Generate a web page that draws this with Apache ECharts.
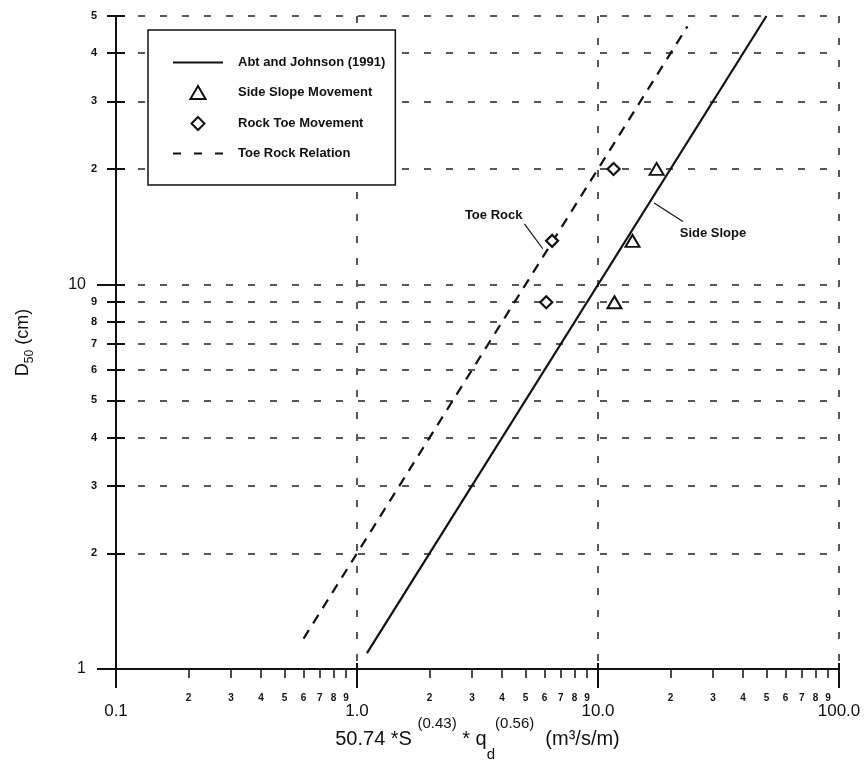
<!DOCTYPE html>
<html><head><meta charset="utf-8">
<script src="https://cdn.jsdelivr.net/npm/echarts@6/dist/echarts.min.js"></script>
<style>html,body{margin:0;padding:0;background:#fff}#c{width:866px;height:760px}</style>
</head><body><div id="c"></div>
<script>
// ---- data ----
const xMajorTicks = [0.1, 1, 10, 100];
const xMinorTicks = [0.2,0.3,0.4,0.5,0.6,0.7,0.8,0.9, 2,3,4,5,6,7,8,9, 20,30,40,50,60,70,80,90];
const yTicks = [1,2,3,4,5,6,7,8,9,10,20,30,40,50];
const yMinorTicks = [2,3,4,5,6,7,8,9,20,30,40,50];
const yMajorTicks = [1, 10];

const abtJohnsonLine = [[1.1, 1.1], [50, 50]];
const toeRockLine = [[0.6, 1.2], [23.5, 47]];
const sideSlopePoints = [[17.5, 20], [13.9, 13], [11.7, 9]];
const rockToePoints = [[11.6, 20], [6.45, 13], [6.1, 9]];

const annotationNames = ['Toe Rock', 'Side Slope'];
const annotationAt = [[3.69, 15.1], [30.0, 13.6]];
const leaderFrom = [[4.95, 14.4], [17.1, 16.3]];
const leaderTo = [[5.9, 12.4], [22.5, 14.6]];

const seriesNames = ['Abt and Johnson (1991)', 'Side Slope Movement', 'Rock Toe Movement', 'Toe Rock Relation'];

// ---- chart ----
const FONT = 'Liberation Sans, Arial, sans-serif';
const INK = '#111';
const gridDash = {color: '#222', width: 1.5, type: [7, 15]};
function firstDigit(v) {
  const p = Math.pow(10, Math.floor(Math.log10(v) + 1e-9));
  return String(Math.round(v / p));
}
const chart = echarts.init(document.getElementById('c'), null, {renderer: 'canvas'});
const xBase = {type: 'log', logBase: 10, min: 0.1, max: 100, position: 'bottom', gridIndex: 0};
const yBase = {type: 'log', logBase: 10, min: 1, max: 50, position: 'left', gridIndex: 0};

chart.setOption({
  animation: false,
  backgroundColor: '#fff',
  textStyle: {fontFamily: FONT},
  grid: {left: 116, right: 27, top: 16, bottom: 91, containLabel: false, outerBoundsMode: 'none'},
  legend: {
    orient: 'vertical', left: 148, top: 30,
    data: [
      {name: seriesNames[0], itemStyle: {opacity: 0}},
      {name: seriesNames[1], icon: 'path://M7,0L14,12L0,12Z'},
      {name: seriesNames[2], icon: 'path://M6,0L12,6L6,12L0,6Z'},
      {name: seriesNames[3], itemStyle: {opacity: 0}, lineStyle: {type: [8, 13]}}
    ],
    symbolKeepAspect: true,
    itemWidth: 50, itemHeight: 13, itemGap: 16,
    padding: [26, 10, 25, 24],
    borderColor: INK, borderWidth: 1.5, backgroundColor: '#fff',
    textStyle: {fontSize: 13, fontWeight: 'bold', color: INK, fontFamily: FONT, padding: [0, 0, 0, 10]}
  },
  xAxis: [
    Object.assign({}, xBase, {
      name: '{m|50.74 *S }{sup|(0.43)}{m| * q}{sub|d}{sup|(0.56)}{m|  (m³/s/m)}',
      nameLocation: 'middle', nameGap: 47, nameMoveOverlap: false,
      nameTextStyle: {
        fontFamily: FONT, color: INK,
        rich: {
          m: {fontSize: 20, lineHeight: 46, color: INK, fontFamily: FONT},
          sup: {fontSize: 15, verticalAlign: 'top', color: INK, fontFamily: FONT},
          sub: {fontSize: 15, verticalAlign: 'bottom', color: INK, fontFamily: FONT}
        }
      },
      axisLine: {show: true, onZero: false, lineStyle: {color: INK, width: 2}},
      axisTick: {show: true, customValues: xMajorTicks, length: 19, lineStyle: {color: INK, width: 2}},
      axisLabel: {show: true, customValues: xMajorTicks, margin: 34, fontSize: 17, color: INK, fontFamily: FONT,
        formatter: v => Number(v).toFixed(1)},
      splitLine: {show: true, lineStyle: gridDash},
      minorTick: {show: false}
    }),
    Object.assign({}, xBase, {
      axisLine: {show: false},
      axisTick: {show: true, customValues: xMajorTicks, inside: true, length: 6, lineStyle: {color: INK, width: 2}},
      axisLabel: {show: false},
      splitLine: {show: false}
    }),
    Object.assign({}, xBase, {
      axisLine: {show: false},
      axisTick: {show: true, customValues: xMinorTicks, length: 9, lineStyle: {color: INK, width: 1.5}},
      axisLabel: {show: true, customValues: xMinorTicks, margin: 24, fontSize: 10, fontWeight: 'bold', color: INK, fontFamily: FONT,
        formatter: v => firstDigit(v)},
      splitLine: {show: false}
    })
  ],
  yAxis: [
    Object.assign({}, yBase, {
      name: '{m|D}{sub|50}{m| (cm)}',
      nameLocation: 'middle', nameGap: 80, nameRotate: 90, nameMoveOverlap: false,
      nameTextStyle: {
        fontFamily: FONT, color: INK,
        rich: {
          m: {fontSize: 18, lineHeight: 26, color: INK, fontFamily: FONT},
          sub: {fontSize: 12, verticalAlign: 'bottom', color: INK, fontFamily: FONT}
        }
      },
      axisLine: {show: true, onZero: false, lineStyle: {color: INK, width: 2}},
      axisTick: {show: true, customValues: yTicks, length: 9, lineStyle: {color: INK, width: 2}},
      axisLabel: {show: true, customValues: yMinorTicks, margin: 19, fontSize: 11, fontWeight: 'bold', color: INK, fontFamily: FONT,
        formatter: v => firstDigit(v)},
      splitLine: {show: true, lineStyle: gridDash}
    }),
    Object.assign({}, yBase, {
      axisLine: {show: false},
      axisTick: {show: true, customValues: yMajorTicks, length: 19, lineStyle: {color: INK, width: 2}},
      axisLabel: {show: true, customValues: yMajorTicks, margin: 30, fontSize: 16, color: INK, fontFamily: FONT,
        formatter: v => String(Math.round(v))},
      splitLine: {show: false}
    }),
    Object.assign({}, yBase, {
      axisLine: {show: false},
      axisTick: {show: true, customValues: yTicks, inside: true, length: 9, lineStyle: {color: INK, width: 2}},
      axisLabel: {show: false},
      splitLine: {show: false}
    })
  ],
  series: [
    {
      name: seriesNames[0], type: 'line', data: abtJohnsonLine, symbol: 'none',
      lineStyle: {color: INK, width: 2.2, type: 'solid'}, itemStyle: {color: INK}, z: 3
    },
    {
      name: seriesNames[1], type: 'scatter', data: sideSlopePoints, symbol: 'triangle', symbolSize: [14, 12],
      itemStyle: {color: '#fff', borderColor: INK, borderWidth: 2, opacity: 1}, z: 4
    },
    {
      name: seriesNames[2], type: 'scatter', data: rockToePoints, symbol: 'diamond', symbolSize: [12, 12],
      itemStyle: {color: '#fff', borderColor: INK, borderWidth: 2.2, opacity: 1}, z: 4
    },
    {
      name: seriesNames[3], type: 'line', data: toeRockLine, symbol: 'none',
      lineStyle: {color: INK, width: 2.2, type: [10, 8]}, itemStyle: {color: INK}, z: 3
    },
    {
      name: 'annotations', type: 'scatter', symbol: 'circle', symbolSize: 1, silent: true,
      itemStyle: {color: 'rgba(0,0,0,0)', opacity: 1},
      data: annotationNames.map((n, i) => ({name: n, value: annotationAt[i]})),
      label: {show: true, position: 'inside', formatter: p => p.name, fontSize: 13, fontWeight: 'bold', color: INK, opacity: 1, fontFamily: FONT},
      markLine: {
        silent: true, symbol: ['none', 'none'], animation: false,
        label: {show: false},
        lineStyle: {color: INK, width: 1.2, type: 'solid', opacity: 1},
        data: leaderFrom.map((f, i) => [{coord: f}, {coord: leaderTo[i]}])
      },
      z: 5
    }
  ]
});
</script>
</body></html>
